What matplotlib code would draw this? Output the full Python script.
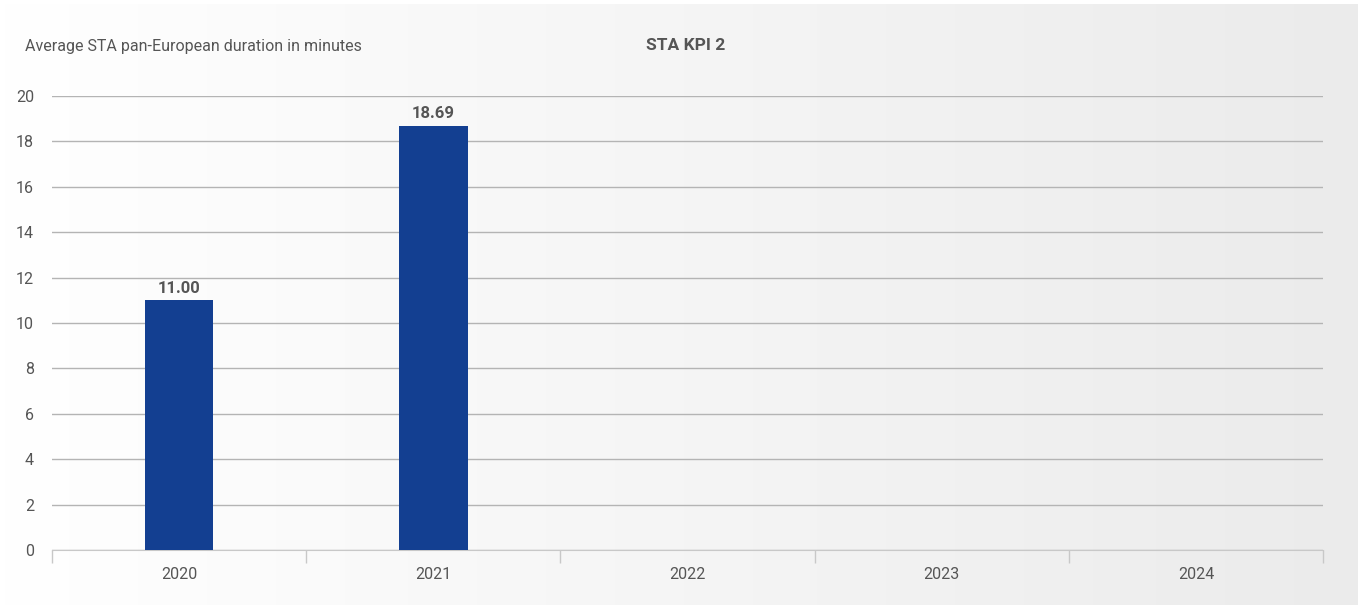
import matplotlib
matplotlib.use("Agg")
import matplotlib.pyplot as plt
import numpy as np

years = ["2020", "2021", "2022", "2023", "2024"]
values = [11.00, 18.69, None, None, None]
y_ticks = [0, 2, 4, 6, 8, 10, 12, 14, 16, 18, 20]

plt.rcParams["font.family"] = ["Roboto", "DejaVu Sans"]
TEXT = "#555555"
BAR = "#133f91"

fig = plt.figure(figsize=(13.6, 6.14), dpi=100)
fig.patch.set_facecolor("white")

# background gradient panel
bg = fig.add_axes([0, 0.015, 0.998, 0.978], zorder=0)
grad = np.linspace(1.0, 0.922, 256)[None, :]
bg.imshow(np.dstack([grad, grad, grad]), aspect="auto", extent=[0, 1, 0, 1])
bg.set_axis_off()

ax = fig.add_axes([52 / 1360, 1 - 550 / 614, (1323 - 52) / 1360, (550 - 96) / 614], zorder=1)
ax.patch.set_alpha(0)

x = np.arange(len(years))
for xi, v in zip(x, values):
    if v is None:
        continue
    ax.bar(xi, v, width=0.27, color=BAR, zorder=3)
    ax.text(xi, v + 0.2, f"{v:.2f}", ha="center", va="bottom",
            fontsize=12, fontweight="bold", color=TEXT, zorder=4)

ax.set_xlim(-0.5, len(years) - 0.5)
ax.set_ylim(0, 20)
ax.set_yticks(y_ticks)
ax.set_yticklabels([str(t) for t in y_ticks], fontsize=11.5, color=TEXT)
ax.yaxis.grid(True, color="#b4b4b4", linewidth=1)
ax.set_axisbelow(True)
ax.tick_params(axis="y", length=0, pad=13)

# category labels centred, ticks at boundaries
ax.set_xticks(np.arange(-0.5, len(years)), minor=False)
ax.set_xticklabels([""] * (len(years) + 1))
ax.tick_params(axis="x", length=9, color="#c8c8c8", width=1)
ax.set_xticks(x, minor=True)
ax.set_xticklabels(years, minor=True, fontsize=11.5, color=TEXT)
ax.tick_params(axis="x", which="minor", length=0, pad=12)

for s in ["top", "right", "left"]:
    ax.spines[s].set_visible(False)
ax.spines["bottom"].set_color("#c8c8c8")

fig.text(25 / 1360, 1 - 46 / 614, "Average STA pan-European duration in minutes",
         fontsize=11.5, color=TEXT, va="center", ha="left")
fig.text(686 / 1360, 1 - 46 / 614, "STA KPI 2", fontsize=12.5, fontweight="bold",
         color=TEXT, va="center", ha="center")

fig.savefig("out.png", dpi=100)
